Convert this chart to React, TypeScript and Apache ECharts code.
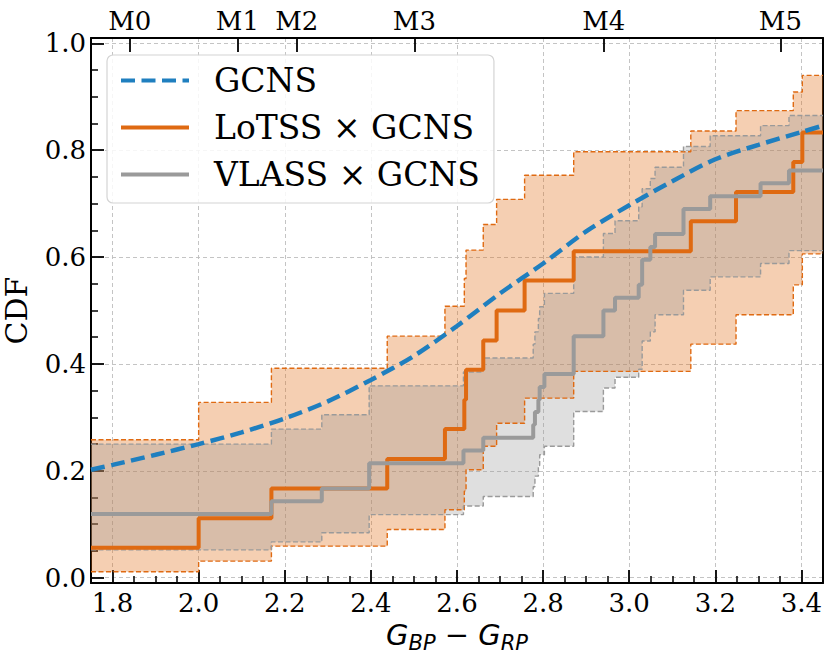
import React, { useEffect, useRef } from "react";
import * as echarts from "echarts";

const XMIN = 1.75;
const XMAX = 3.45;
const YMIN = -0.01;
const YMAX = 1.01;

// GCNS smooth CDF
const gcnsX = [1.75, 1.8, 1.9, 2.0, 2.1, 2.2, 2.3, 2.4, 2.5, 2.6, 2.7, 2.8, 2.9, 3.0, 3.1, 3.2, 3.3, 3.4, 3.45];
const gcnsY = [0.202, 0.211, 0.23, 0.25, 0.272, 0.298, 0.33, 0.37, 0.415, 0.471, 0.532, 0.588, 0.648, 0.697, 0.742, 0.783, 0.81, 0.834, 0.846];

// LoTSS x GCNS step CDF (jump positions, values after jump)
const lotssX = [1.75, 2.0, 2.169, 2.438, 2.572, 2.617, 2.621, 2.661, 2.692, 2.757, 2.871, 3.143, 3.248, 3.381, 3.402];
const lotssMed = [0.056, 0.111, 0.167, 0.222, 0.278, 0.333, 0.389, 0.444, 0.5, 0.556, 0.611, 0.667, 0.722, 0.778, 0.833];
const lotssUp = [0.258, 0.328, 0.392, 0.452, 0.508, 0.56, 0.613, 0.661, 0.708, 0.753, 0.797, 0.836, 0.874, 0.909, 0.94];
const lotssLo = [0.011, 0.031, 0.059, 0.09, 0.127, 0.162, 0.202, 0.246, 0.289, 0.336, 0.386, 0.437, 0.492, 0.548, 0.606];

// VLASS x GCNS step CDF
const vlassX = [1.75, 2.169, 2.286, 2.396, 2.615, 2.661, 2.777, 2.781, 2.789, 2.792, 2.803, 2.871, 2.94, 2.967, 3.022, 3.03, 3.049, 3.06, 3.126, 3.188, 3.305, 3.371];
const vlassMed = [0.119, 0.143, 0.167, 0.214, 0.238, 0.262, 0.286, 0.31, 0.333, 0.357, 0.381, 0.452, 0.5, 0.524, 0.548, 0.595, 0.619, 0.643, 0.69, 0.714, 0.738, 0.762];
const vlassUp = [0.25, 0.278, 0.305, 0.359, 0.385, 0.411, 0.437, 0.46, 0.485, 0.507, 0.532, 0.6, 0.644, 0.668, 0.694, 0.728, 0.747, 0.768, 0.807, 0.827, 0.846, 0.865];
const vlassLo = [0.052, 0.067, 0.084, 0.118, 0.134, 0.152, 0.17, 0.19, 0.21, 0.23, 0.246, 0.311, 0.355, 0.375, 0.39, 0.443, 0.46, 0.492, 0.538, 0.563, 0.588, 0.612];

// Spectral type ticks on top axis
const mTicks = [1.84, 2.09, 2.228, 2.501, 2.941, 3.351];
const mLabels = ["M0", "M1", "M2", "M3", "M4", "M5"];

const ORANGE = "#df6a12";
const GRAY = "#9a9a9a";
const BLUE = "#1f7fbf";
const SERIF = "DejaVu Serif";

function stepData(xs: number[], ys: number[]) {
  const d = xs.map((x, i) => [x, ys[i]]);
  d.push([XMAX, ys[ys.length - 1]]);
  return d;
}

function bandRender(xs: number[], up: number[], lo: number[], fill: string) {
  return (params: any, api: any) => {
    const n = xs.length;
    const pts: number[][] = [];
    for (let i = 0; i < n; i++) {
      const x0 = xs[i];
      const x1 = i + 1 < n ? xs[i + 1] : XMAX;
      pts.push(api.coord([x0, up[i]]));
      pts.push(api.coord([x1, up[i]]));
    }
    for (let i = n - 1; i >= 0; i--) {
      const x0 = xs[i];
      const x1 = i + 1 < n ? xs[i + 1] : XMAX;
      pts.push(api.coord([x1, lo[i]]));
      pts.push(api.coord([x0, lo[i]]));
    }
    return { type: "polygon", shape: { points: pts }, style: { fill } };
  };
}

export default function App() {
  const ref = useRef<HTMLDivElement>(null);
  useEffect(() => {
    if (!ref.current) return;
    const chart = echarts.init(ref.current, null, { renderer: "svg" });
    const tickLabel = { fontFamily: SERIF, fontSize: 26, color: "#000" };
    const splitLine = { show: true, lineStyle: { color: "#bdbdbd", width: 0.9, type: [4, 3] } };
    const option: any = {
      animation: false,
      backgroundColor: "#fff",
      grid: { left: 91, top: 38, right: 8, bottom: 75, containLabel: false, outerBoundsMode: "none" },
      legend: {
        data: ["GCNS", "LoTSS × GCNS", "VLASS × GCNS"],
        orient: "vertical",
        left: 107,
        top: 55,
        padding: [9, 14, 12, 12],
        itemGap: 14,
        itemWidth: 68,
        itemHeight: 4,
        selectedMode: false,
        itemStyle: { opacity: 0 },
        lineStyle: { width: 4 },
        backgroundColor: "rgba(255,255,255,0.85)",
        borderColor: "#d4d4d4",
        borderWidth: 1.2,
        borderRadius: 6,
        textStyle: { fontFamily: SERIF, fontSize: 33, color: "#000", padding: [0, 0, 0, 20] },
      },
      xAxis: [
        {
          type: "value",
          min: XMIN,
          max: XMAX,
          splitNumber: 8,
          position: "bottom",
          axisLine: { show: true, onZero: false, lineStyle: { color: "#000", width: 2 } },
          axisTick: { show: true, inside: true, length: 13, lineStyle: { color: "#000", width: 1.8 } },
          minorTick: { show: true, splitNumber: 4, length: 7, lineStyle: { color: "#000", width: 1.5 } },
          axisLabel: {
            ...tickLabel,
            margin: 7,
            showMinLabel: false,
            showMaxLabel: false,
            formatter: (v: number) => v.toFixed(1),
          },
          splitLine,
          name: "{g|G}{s|BP}{g| − G}{s|RP}",
          nameLocation: "middle",
          nameGap: 32,
          nameTextStyle: {
            rich: {
              g: { fontFamily: "DejaVu Sans", fontStyle: "italic", fontSize: 29, color: "#000", lineHeight: 36 },
              s: { fontFamily: "DejaVu Sans", fontStyle: "italic", fontSize: 21, color: "#000", lineHeight: 36, verticalAlign: "bottom", padding: [10, 0, 0, 0] },
            },
          },
        },
        {
          type: "value",
          min: XMIN,
          max: XMAX,
          position: "top",
          axisLine: { show: true, onZero: false, lineStyle: { color: "#000", width: 2 } },
          axisTick: { show: true, inside: true, length: 14, customValues: mTicks, lineStyle: { color: "#000", width: 1.8 } },
          axisLabel: {
            ...tickLabel,
            margin: 4,
            customValues: mTicks,
            formatter: (v: number) => {
              let best = 0;
              for (let i = 0; i < mTicks.length; i++) {
                if (Math.abs(mTicks[i] - v) < Math.abs(mTicks[best] - v)) best = i;
              }
              return mLabels[best];
            },
          },
          splitLine: { show: false },
        },
      ],
      yAxis: [
        {
          type: "value",
          min: YMIN,
          max: YMAX,
          splitNumber: 5,
          axisLine: { show: true, onZero: false, lineStyle: { color: "#000", width: 2 } },
          axisTick: { show: true, inside: true, length: 13, lineStyle: { color: "#000", width: 1.8 } },
          minorTick: { show: true, splitNumber: 4, length: 7, lineStyle: { color: "#000", width: 1.5 } },
          axisLabel: {
            ...tickLabel,
            margin: 5,
            showMinLabel: false,
            showMaxLabel: false,
            formatter: (v: number) => v.toFixed(1),
          },
          splitLine,
          name: "CDF",
          nameLocation: "middle",
          nameGap: 60,
          nameTextStyle: { fontFamily: SERIF, fontSize: 30, color: "#000" },
        },
        {
          type: "value",
          min: YMIN,
          max: YMAX,
          position: "right",
          axisLine: { show: true, onZero: false, lineStyle: { color: "#000", width: 2 } },
          axisTick: { show: false },
          axisLabel: { show: false },
          splitLine: { show: false },
        },
      ],
      series: [
        {
          name: "lotssBand",
          type: "custom",
          coordinateSystem: "cartesian2d",
          renderItem: bandRender(lotssX, lotssUp, lotssLo, "rgba(226,110,20,0.33)"),
          data: [[XMIN, 0]],
          z: 1,
          silent: true,
        },
        {
          name: "vlassBand",
          type: "custom",
          coordinateSystem: "cartesian2d",
          renderItem: bandRender(vlassX, vlassUp, vlassLo, "rgba(150,150,150,0.3)"),
          data: [[XMIN, 0]],
          z: 2,
          silent: true,
        },
        ...[
          ["lotssUp", lotssX, lotssUp, ORANGE],
          ["lotssLo", lotssX, lotssLo, ORANGE],
          ["vlassUp", vlassX, vlassUp, GRAY],
          ["vlassLo", vlassX, vlassLo, GRAY],
        ].map(([name, xs, ys, color]: any) => ({
          name,
          type: "line",
          step: "end",
          data: stepData(xs, ys),
          symbol: "none",
          z: 3,
          silent: true,
          lineStyle: { color, width: 1.4, type: [5, 2.5] },
        })),
        {
          name: "LoTSS × GCNS",
          type: "line",
          step: "end",
          data: stepData(lotssX, lotssMed),
          symbol: "none",
          z: 4,
          color: ORANGE,
          lineStyle: { color: ORANGE, width: 4 },
        },
        {
          name: "VLASS × GCNS",
          type: "line",
          step: "end",
          data: stepData(vlassX, vlassMed),
          symbol: "none",
          z: 4,
          color: GRAY,
          lineStyle: { color: GRAY, width: 4 },
        },
        {
          name: "GCNS",
          type: "line",
          smooth: 0.3,
          data: gcnsX.map((x, i) => [x, gcnsY[i]]),
          symbol: "none",
          z: 5,
          color: BLUE,
          lineStyle: { color: BLUE, width: 4.5, type: [14, 6.5] },
        },
      ],
    };
    chart.setOption(option);
    return () => chart.dispose();
  }, []);
  return (
    <div
      ref={ref}
      style={{ position: "fixed", left: 0, top: 0, width: 831, height: 658, background: "#fff" }}
    />
  );
}
